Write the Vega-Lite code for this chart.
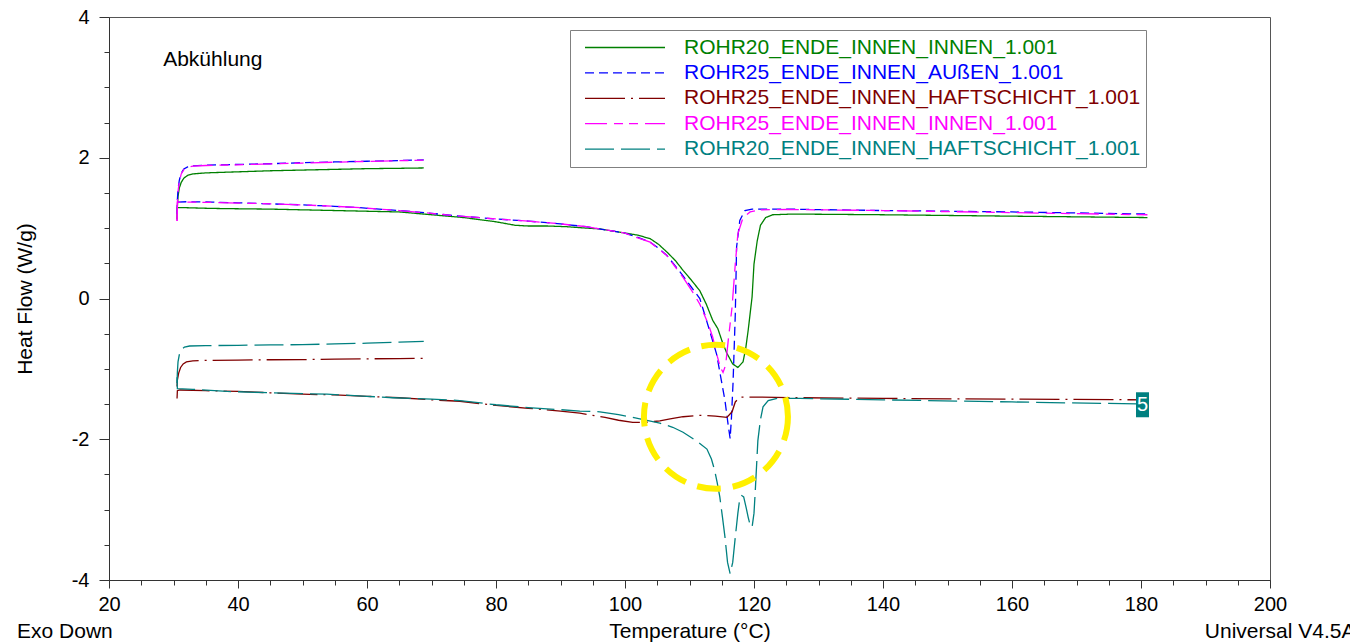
{
  "$schema": "https://vega.github.io/schema/vega-lite/v6.json",
  "width": 1161,
  "height": 563,
  "autosize": {"type": "none"},
  "padding": {"left": 109, "top": 17, "right": 80, "bottom": 64},
  "background": "white",
  "config": {"view": {"stroke": "#555", "strokeWidth": 1}, "font": "Liberation Sans"},
  "datasets": {
    "names": [
      {"k": "A", "name": "ROHR20_ENDE_INNEN_INNEN_1.001"},
      {"k": "B", "name": "ROHR25_ENDE_INNEN_AUßEN_1.001"},
      {"k": "C", "name": "ROHR25_ENDE_INNEN_HAFTSCHICHT_1.001"},
      {"k": "D", "name": "ROHR25_ENDE_INNEN_INNEN_1.001"},
      {"k": "E", "name": "ROHR20_ENDE_INNEN_HAFTSCHICHT_1.001"}
    ],
    "curves": [
      {"k":"A","g":"u","t":30.55,"h":1.12},{"k":"A","g":"u","t":30.6,"h":1.3},{"k":"A","g":"u","t":30.7,"h":1.45},{"k":"A","g":"u","t":30.9,"h":1.57},{"k":"A","g":"u","t":31.2,"h":1.65},{"k":"A","g":"u","t":31.6,"h":1.71},{"k":"A","g":"u","t":32.2,"h":1.75},{"k":"A","g":"u","t":33,"h":1.77},{"k":"A","g":"u","t":35,"h":1.785},{"k":"A","g":"u","t":40,"h":1.8},{"k":"A","g":"u","t":45,"h":1.815},{"k":"A","g":"u","t":50,"h":1.825},{"k":"A","g":"u","t":55,"h":1.835},{"k":"A","g":"u","t":60,"h":1.845},{"k":"A","g":"u","t":65,"h":1.85},{"k":"A","g":"u","t":68.8,"h":1.855},
      {"k":"A","g":"l","t":30.55,"h":1.13},{"k":"A","g":"l","t":30.6,"h":1.29},{"k":"A","g":"l","t":32,"h":1.29},{"k":"A","g":"l","t":36,"h":1.28},{"k":"A","g":"l","t":40,"h":1.275},{"k":"A","g":"l","t":45,"h":1.27},{"k":"A","g":"l","t":50,"h":1.26},{"k":"A","g":"l","t":55,"h":1.25},{"k":"A","g":"l","t":60,"h":1.24},{"k":"A","g":"l","t":65,"h":1.23},{"k":"A","g":"l","t":70,"h":1.19},{"k":"A","g":"l","t":75,"h":1.15},{"k":"A","g":"l","t":80,"h":1.09},{"k":"A","g":"l","t":83,"h":1.04},{"k":"A","g":"l","t":85,"h":1.03},{"k":"A","g":"l","t":88,"h":1.03},{"k":"A","g":"l","t":91,"h":1.02},{"k":"A","g":"l","t":94,"h":1.0},{"k":"A","g":"l","t":96,"h":0.99},{"k":"A","g":"l","t":98,"h":0.96},{"k":"A","g":"l","t":100,"h":0.93},{"k":"A","g":"l","t":102,"h":0.9},{"k":"A","g":"l","t":103.9,"h":0.85},{"k":"A","g":"l","t":105.2,"h":0.77},{"k":"A","g":"l","t":106.5,"h":0.66},{"k":"A","g":"l","t":107.8,"h":0.54},{"k":"A","g":"l","t":109,"h":0.4},{"k":"A","g":"l","t":110.3,"h":0.26},{"k":"A","g":"l","t":111.6,"h":0.11},{"k":"A","g":"l","t":112.6,"h":-0.08},{"k":"A","g":"l","t":113.6,"h":-0.31},{"k":"A","g":"l","t":114.4,"h":-0.43},{"k":"A","g":"l","t":115.1,"h":-0.62},{"k":"A","g":"l","t":115.8,"h":-0.78},{"k":"A","g":"l","t":116.7,"h":-0.93},{"k":"A","g":"l","t":117.5,"h":-0.98},{"k":"A","g":"l","t":118.3,"h":-0.9},{"k":"A","g":"l","t":118.7,"h":-0.72},{"k":"A","g":"l","t":119.1,"h":-0.45},{"k":"A","g":"l","t":119.7,"h":0.02},{"k":"A","g":"l","t":120,"h":0.49},{"k":"A","g":"l","t":120.5,"h":0.82},{"k":"A","g":"l","t":121,"h":1.04},{"k":"A","g":"l","t":121.8,"h":1.15},{"k":"A","g":"l","t":122.9,"h":1.19},{"k":"A","g":"l","t":126,"h":1.2},{"k":"A","g":"l","t":140,"h":1.19},{"k":"A","g":"l","t":160,"h":1.17},{"k":"A","g":"l","t":181,"h":1.15},
      {"k":"B","g":"u","t":30.55,"h":1.2},{"k":"B","g":"u","t":30.6,"h":1.4},{"k":"B","g":"u","t":30.7,"h":1.55},{"k":"B","g":"u","t":30.9,"h":1.68},{"k":"B","g":"u","t":31.2,"h":1.78},{"k":"B","g":"u","t":31.6,"h":1.84},{"k":"B","g":"u","t":32.2,"h":1.87},{"k":"B","g":"u","t":33,"h":1.885},{"k":"B","g":"u","t":35,"h":1.895},{"k":"B","g":"u","t":40,"h":1.905},{"k":"B","g":"u","t":45,"h":1.915},{"k":"B","g":"u","t":50,"h":1.93},{"k":"B","g":"u","t":55,"h":1.94},{"k":"B","g":"u","t":60,"h":1.95},{"k":"B","g":"u","t":65,"h":1.96},{"k":"B","g":"u","t":68.8,"h":1.97},
      {"k":"B","g":"l","t":30.6,"h":1.37},{"k":"B","g":"l","t":32,"h":1.375},{"k":"B","g":"l","t":36,"h":1.37},{"k":"B","g":"l","t":40,"h":1.36},{"k":"B","g":"l","t":43.4,"h":1.35},{"k":"B","g":"l","t":50,"h":1.33},{"k":"B","g":"l","t":55,"h":1.31},{"k":"B","g":"l","t":58.9,"h":1.29},{"k":"B","g":"l","t":65,"h":1.25},{"k":"B","g":"l","t":70,"h":1.21},{"k":"B","g":"l","t":74.4,"h":1.17},{"k":"B","g":"l","t":80,"h":1.13},{"k":"B","g":"l","t":85,"h":1.1},{"k":"B","g":"l","t":90,"h":1.06},{"k":"B","g":"l","t":94,"h":1.02},{"k":"B","g":"l","t":96,"h":0.99},{"k":"B","g":"l","t":98,"h":0.96},{"k":"B","g":"l","t":100,"h":0.93},{"k":"B","g":"l","t":102,"h":0.87},{"k":"B","g":"l","t":103.9,"h":0.8},{"k":"B","g":"l","t":105.4,"h":0.7},{"k":"B","g":"l","t":106.5,"h":0.61},{"k":"B","g":"l","t":108,"h":0.44},{"k":"B","g":"l","t":109,"h":0.32},{"k":"B","g":"l","t":110.3,"h":0.16},{"k":"B","g":"l","t":111.6,"h":0.0},{"k":"B","g":"l","t":113.1,"h":-0.45},{"k":"B","g":"l","t":114.2,"h":-0.79},{"k":"B","g":"l","t":115.5,"h":-1.45},{"k":"B","g":"l","t":116,"h":-1.8},{"k":"B","g":"l","t":116.3,"h":-1.99},{"k":"B","g":"l","t":116.5,"h":-1.7},{"k":"B","g":"l","t":116.75,"h":-1.2},{"k":"B","g":"l","t":117.1,"h":-0.22},{"k":"B","g":"l","t":117.3,"h":0.73},{"k":"B","g":"l","t":117.8,"h":1.11},{"k":"B","g":"l","t":118.6,"h":1.25},{"k":"B","g":"l","t":119.7,"h":1.27},{"k":"B","g":"l","t":125,"h":1.27},{"k":"B","g":"l","t":140,"h":1.25},{"k":"B","g":"l","t":160,"h":1.23},{"k":"B","g":"l","t":181,"h":1.2},
      {"k":"C","g":"u","t":30.55,"h":-1.25},{"k":"C","g":"u","t":30.6,"h":-1.16},{"k":"C","g":"u","t":30.8,"h":-1.06},{"k":"C","g":"u","t":31.1,"h":-0.98},{"k":"C","g":"u","t":31.5,"h":-0.93},{"k":"C","g":"u","t":32,"h":-0.9},{"k":"C","g":"u","t":33,"h":-0.885},{"k":"C","g":"u","t":35,"h":-0.88},{"k":"C","g":"u","t":40,"h":-0.875},{"k":"C","g":"u","t":45,"h":-0.87},{"k":"C","g":"u","t":50,"h":-0.868},{"k":"C","g":"u","t":55,"h":-0.862},{"k":"C","g":"u","t":60,"h":-0.857},{"k":"C","g":"u","t":65,"h":-0.853},{"k":"C","g":"u","t":68.8,"h":-0.85},
      {"k":"C","g":"l","t":30.55,"h":-1.42},{"k":"C","g":"l","t":30.6,"h":-1.31},{"k":"C","g":"l","t":31,"h":-1.3},{"k":"C","g":"l","t":35,"h":-1.31},{"k":"C","g":"l","t":40,"h":-1.32},{"k":"C","g":"l","t":45,"h":-1.34},{"k":"C","g":"l","t":50,"h":-1.36},{"k":"C","g":"l","t":55,"h":-1.37},{"k":"C","g":"l","t":60,"h":-1.39},{"k":"C","g":"l","t":65,"h":-1.41},{"k":"C","g":"l","t":70,"h":-1.44},{"k":"C","g":"l","t":74.4,"h":-1.46},{"k":"C","g":"l","t":80,"h":-1.52},{"k":"C","g":"l","t":85,"h":-1.56},{"k":"C","g":"l","t":90,"h":-1.6},{"k":"C","g":"l","t":93,"h":-1.63},{"k":"C","g":"l","t":96.9,"h":-1.69},{"k":"C","g":"l","t":99,"h":-1.73},{"k":"C","g":"l","t":101.2,"h":-1.76},{"k":"C","g":"l","t":103,"h":-1.76},{"k":"C","g":"l","t":105.4,"h":-1.74},{"k":"C","g":"l","t":107,"h":-1.71},{"k":"C","g":"l","t":109,"h":-1.68},{"k":"C","g":"l","t":111.6,"h":-1.66},{"k":"C","g":"l","t":114,"h":-1.67},{"k":"C","g":"l","t":115.8,"h":-1.69},{"k":"C","g":"l","t":116.6,"h":-1.61},{"k":"C","g":"l","t":117.1,"h":-1.47},{"k":"C","g":"l","t":117.8,"h":-1.4},{"k":"C","g":"l","t":119.4,"h":-1.4},{"k":"C","g":"l","t":127.1,"h":-1.41},{"k":"C","g":"l","t":140,"h":-1.42},{"k":"C","g":"l","t":160,"h":-1.43},{"k":"C","g":"l","t":181,"h":-1.44},
      {"k":"D","g":"u","t":30.55,"h":1.1},{"k":"D","g":"u","t":30.6,"h":1.35},{"k":"D","g":"u","t":30.7,"h":1.52},{"k":"D","g":"u","t":30.9,"h":1.66},{"k":"D","g":"u","t":31.2,"h":1.77},{"k":"D","g":"u","t":31.6,"h":1.83},{"k":"D","g":"u","t":32.2,"h":1.865},{"k":"D","g":"u","t":33,"h":1.88},{"k":"D","g":"u","t":35,"h":1.89},{"k":"D","g":"u","t":40,"h":1.9},{"k":"D","g":"u","t":45,"h":1.912},{"k":"D","g":"u","t":50,"h":1.925},{"k":"D","g":"u","t":55,"h":1.937},{"k":"D","g":"u","t":60,"h":1.948},{"k":"D","g":"u","t":65,"h":1.958},{"k":"D","g":"u","t":68.8,"h":1.965},
      {"k":"D","g":"l","t":30.55,"h":1.1},{"k":"D","g":"l","t":30.6,"h":1.37},{"k":"D","g":"l","t":32,"h":1.37},{"k":"D","g":"l","t":36,"h":1.365},{"k":"D","g":"l","t":40,"h":1.355},{"k":"D","g":"l","t":43.4,"h":1.35},{"k":"D","g":"l","t":50,"h":1.33},{"k":"D","g":"l","t":55,"h":1.31},{"k":"D","g":"l","t":58.9,"h":1.29},{"k":"D","g":"l","t":65,"h":1.25},{"k":"D","g":"l","t":70,"h":1.21},{"k":"D","g":"l","t":74.4,"h":1.17},{"k":"D","g":"l","t":80,"h":1.13},{"k":"D","g":"l","t":85,"h":1.1},{"k":"D","g":"l","t":90,"h":1.06},{"k":"D","g":"l","t":94,"h":1.02},{"k":"D","g":"l","t":96,"h":0.99},{"k":"D","g":"l","t":98,"h":0.96},{"k":"D","g":"l","t":100,"h":0.93},{"k":"D","g":"l","t":102,"h":0.86},{"k":"D","g":"l","t":103.9,"h":0.8},{"k":"D","g":"l","t":106.5,"h":0.61},{"k":"D","g":"l","t":109,"h":0.3},{"k":"D","g":"l","t":110.3,"h":0.12},{"k":"D","g":"l","t":111.6,"h":-0.08},{"k":"D","g":"l","t":112.9,"h":-0.36},{"k":"D","g":"l","t":113.6,"h":-0.55},{"k":"D","g":"l","t":114.3,"h":-0.82},{"k":"D","g":"l","t":114.8,"h":-0.98},{"k":"D","g":"l","t":115.2,"h":-1.05},{"k":"D","g":"l","t":115.6,"h":-0.95},{"k":"D","g":"l","t":116,"h":-0.6},{"k":"D","g":"l","t":116.6,"h":-0.12},{"k":"D","g":"l","t":117.1,"h":0.49},{"k":"D","g":"l","t":117.5,"h":0.92},{"k":"D","g":"l","t":118.3,"h":1.15},{"k":"D","g":"l","t":119.4,"h":1.23},{"k":"D","g":"l","t":120.9,"h":1.26},{"k":"D","g":"l","t":125,"h":1.265},{"k":"D","g":"l","t":140,"h":1.25},{"k":"D","g":"l","t":160,"h":1.22},{"k":"D","g":"l","t":181,"h":1.19},
      {"k":"E","g":"u","t":30.55,"h":-1.2},{"k":"E","g":"u","t":30.6,"h":-1.05},{"k":"E","g":"u","t":30.7,"h":-0.9},{"k":"E","g":"u","t":30.9,"h":-0.8},{"k":"E","g":"u","t":31.2,"h":-0.73},{"k":"E","g":"u","t":31.7,"h":-0.69},{"k":"E","g":"u","t":32.5,"h":-0.675},{"k":"E","g":"u","t":35,"h":-0.67},{"k":"E","g":"u","t":40,"h":-0.665},{"k":"E","g":"u","t":45,"h":-0.66},{"k":"E","g":"u","t":50,"h":-0.655},{"k":"E","g":"u","t":55,"h":-0.645},{"k":"E","g":"u","t":60,"h":-0.635},{"k":"E","g":"u","t":65,"h":-0.62},{"k":"E","g":"u","t":68.8,"h":-0.61},
      {"k":"E","g":"l","t":30.55,"h":-1.12},{"k":"E","g":"l","t":30.6,"h":-1.28},{"k":"E","g":"l","t":33,"h":-1.29},{"k":"E","g":"l","t":38.3,"h":-1.32},{"k":"E","g":"l","t":45,"h":-1.34},{"k":"E","g":"l","t":53.8,"h":-1.36},{"k":"E","g":"l","t":60,"h":-1.39},{"k":"E","g":"l","t":64,"h":-1.41},{"k":"E","g":"l","t":70,"h":-1.43},{"k":"E","g":"l","t":74.4,"h":-1.45},{"k":"E","g":"l","t":80,"h":-1.51},{"k":"E","g":"l","t":85,"h":-1.55},{"k":"E","g":"l","t":90,"h":-1.58},{"k":"E","g":"l","t":93,"h":-1.6},{"k":"E","g":"l","t":96.1,"h":-1.61},{"k":"E","g":"l","t":99,"h":-1.65},{"k":"E","g":"l","t":102.3,"h":-1.71},{"k":"E","g":"l","t":105.4,"h":-1.77},{"k":"E","g":"l","t":107.4,"h":-1.83},{"k":"E","g":"l","t":109,"h":-1.9},{"k":"E","g":"l","t":110.5,"h":-1.99},{"k":"E","g":"l","t":111.6,"h":-2.06},{"k":"E","g":"l","t":112.7,"h":-2.14},{"k":"E","g":"l","t":113.4,"h":-2.28},{"k":"E","g":"l","t":113.9,"h":-2.44},{"k":"E","g":"l","t":114.3,"h":-2.62},{"k":"E","g":"l","t":114.7,"h":-2.82},{"k":"E","g":"l","t":115.1,"h":-3.1},{"k":"E","g":"l","t":115.5,"h":-3.39},{"k":"E","g":"l","t":115.9,"h":-3.75},{"k":"E","g":"l","t":116.3,"h":-3.91},{"k":"E","g":"l","t":116.7,"h":-3.75},{"k":"E","g":"l","t":117.1,"h":-3.39},{"k":"E","g":"l","t":117.5,"h":-3.05},{"k":"E","g":"l","t":117.8,"h":-2.84},{"k":"E","g":"l","t":118.1,"h":-2.8},{"k":"E","g":"l","t":118.4,"h":-2.82},{"k":"E","g":"l","t":118.8,"h":-2.98},{"k":"E","g":"l","t":119.1,"h":-3.11},{"k":"E","g":"l","t":119.4,"h":-3.22},{"k":"E","g":"l","t":119.7,"h":-3.25},{"k":"E","g":"l","t":120,"h":-3.05},{"k":"E","g":"l","t":120.2,"h":-2.73},{"k":"E","g":"l","t":120.6,"h":-2.02},{"k":"E","g":"l","t":121,"h":-1.72},{"k":"E","g":"l","t":121.4,"h":-1.54},{"k":"E","g":"l","t":122.2,"h":-1.45},{"k":"E","g":"l","t":123.6,"h":-1.42},{"k":"E","g":"l","t":127.1,"h":-1.42},{"k":"E","g":"l","t":140,"h":-1.44},{"k":"E","g":"l","t":160,"h":-1.47},{"k":"E","g":"l","t":181,"h":-1.5}
    ]
  },
  "layer": [
    {
      "data": {"name": "curves"},
      "transform": [{"lookup": "k", "from": {"data": {"name": "names"}, "key": "k", "fields": ["name"]}}],
      "mark": {"type": "line", "strokeWidth": 1.3, "clip": true},
      "encoding": {
        "x": {"field": "t", "type": "quantitative", "scale": {"domain": [20, 200], "nice": false, "zero": false},
              "axis": {"orient": "bottom", "values": [20, 40, 60, 80, 100, 120, 140, 160, 180, 200], "title": "Temperature (°C)", "titleFont": "Liberation Sans", "titleFontSize": 21, "titleFontWeight": "normal", "titleColor": "black", "titlePadding": 6, "labelFont": "Liberation Sans", "labelFontSize": 20, "labelColor": "black", "labelFlush": false, "labelOverlap": false, "tickSize": 8, "labelPadding": 6, "tickColor": "#333", "domainColor": "#333", "grid": false}},
        "y": {"field": "h", "type": "quantitative", "scale": {"domain": [-4, 4], "nice": false, "zero": false},
              "axis": {"orient": "left", "values": [-4, -2, 0, 2, 4], "labelExpr": "datum.value < 0 ? '-' + abs(datum.value) : '' + datum.value", "title": "Heat Flow (W/g)", "titleFont": "Liberation Sans", "titleFontSize": 21, "titleFontWeight": "normal", "titleColor": "black", "titlePadding": 36, "labelFont": "Liberation Sans", "labelFontSize": 20, "labelColor": "black", "labelFlush": false, "labelOverlap": false, "tickSize": 10, "labelPadding": 10, "tickColor": "#333", "domainColor": "#333", "grid": false}},
        "color": {"field": "name", "type": "nominal",
                  "scale": {"domain": ["ROHR20_ENDE_INNEN_INNEN_1.001", "ROHR25_ENDE_INNEN_AUßEN_1.001", "ROHR25_ENDE_INNEN_HAFTSCHICHT_1.001", "ROHR25_ENDE_INNEN_INNEN_1.001", "ROHR20_ENDE_INNEN_HAFTSCHICHT_1.001"], "range": ["#008000", "#0000FF", "#800000", "#FF00FF", "#008080"]},
                  "legend": {"orient": "none", "legendX": 461, "legendY": 13, "title": null, "symbolType": "stroke", "symbolSize": 6400, "symbolStrokeWidth": 1.3, "clipHeight": 25, "rowPadding": 0.4, "padding": 5, "symbolOffset": 9, "labelOffset": 18, "labelFontSize": 21, "labelFont": "Liberation Sans", "labelLimit": 1000, "strokeColor": "#808080", "fillColor": "white", "labelExpr": "datum.label + '\u00a0\u00a0'", "encode": {"labels": {"update": {"fill": {"scale": "color", "field": "value"}}}}}},
        "strokeDash": {"field": "name", "type": "nominal",
                  "scale": {"domain": ["ROHR20_ENDE_INNEN_INNEN_1.001", "ROHR25_ENDE_INNEN_AUßEN_1.001", "ROHR25_ENDE_INNEN_HAFTSCHICHT_1.001", "ROHR25_ENDE_INNEN_INNEN_1.001", "ROHR20_ENDE_INNEN_HAFTSCHICHT_1.001"], "range": [[1, 0], [9, 5], [40, 6, 2, 6], [22, 7, 9, 6, 9, 7], [29, 7]]},
                  "legend": {"orient": "none", "legendX": 461, "legendY": 13, "title": null, "symbolType": "stroke", "symbolSize": 6400, "symbolStrokeWidth": 1.3, "clipHeight": 25, "rowPadding": 0.4, "padding": 5, "symbolOffset": 9, "labelOffset": 18, "labelFontSize": 21, "labelFont": "Liberation Sans", "labelLimit": 1000, "strokeColor": "#808080", "fillColor": "white", "labelExpr": "datum.label + '\u00a0\u00a0'", "encode": {"labels": {"update": {"fill": {"scale": "color", "field": "value"}}}}}},
        "detail": {"field": "g", "type": "nominal"}
      }
    },
    {
      "data": {"values": [{"t": 28.4, "h": 3.39, "label": "Abkühlung"}]},
      "mark": {"type": "text", "align": "left", "baseline": "middle", "fontSize": 21, "font": "Liberation Sans", "color": "black"},
      "encoding": {
        "x": {"field": "t", "type": "quantitative", "axis": {"orient": "bottom", "values": [20,25,30,35,40,45,50,55,60,65,70,75,80,85,90,95,100,105,110,115,120,125,130,135,140,145,150,155,160,165,170,175,180,185,190,195,200], "labels": false, "domain": false, "tickSize": 5, "tickColor": "#333", "title": null, "grid": false}},
        "y": {"field": "h", "type": "quantitative", "axis": {"orient": "left", "values": [-3.5,-3,-2.5,-1.5,-1,-0.5,0.5,1,1.5,2.5,3,3.5], "labels": false, "domain": false, "tickSize": 5, "tickColor": "#333", "title": null, "grid": false}},
        "text": {"field": "label", "type": "nominal"}
      }
    },
    {
      "data": {"values": [{"t": 114.1, "h": -1.68}]},
      "mark": {"type": "point", "shape": "circle", "size": 20736, "filled": false, "stroke": "#FFF000", "strokeWidth": 6, "strokeDash": [24, 12], "opacity": 1},
      "encoding": {
        "x": {"field": "t", "type": "quantitative", "axis": null},
        "y": {"field": "h", "type": "quantitative", "axis": null}
      }
    },
    {
      "data": {"values": [{"t": 180.23, "h": -1.51, "label": "5"}]},
      "encoding": {
        "x": {"field": "t", "type": "quantitative", "axis": null},
        "y": {"field": "h", "type": "quantitative", "axis": null}
      },
      "layer": [
        {"mark": {"type": "point", "shape": "M-0.52,-1H0.52V1H-0.52Z", "size": 625, "filled": true, "color": "#008080", "opacity": 1, "strokeWidth": 0}},
        {"mark": {"type": "text", "align": "center", "baseline": "middle", "fontSize": 20, "font": "Liberation Sans", "color": "white"}, "encoding": {"text": {"field": "label", "type": "nominal"}}}
      ]
    },
    {
      "data": {"values": [{"t": 5.74, "h": -4.744, "label": "Exo Down"}, {"t": 189.9, "h": -4.744, "label": "Universal V4.5A"}]},
      "mark": {"type": "text", "align": "left", "baseline": "middle", "fontSize": 21, "font": "Liberation Sans", "color": "black"},
      "encoding": {
        "x": {"field": "t", "type": "quantitative", "axis": null},
        "y": {"field": "h", "type": "quantitative", "axis": null},
        "text": {"field": "label", "type": "nominal"}
      }
    }
  ],
  "resolve": {"axis": {"x": "independent", "y": "independent"}}
}
